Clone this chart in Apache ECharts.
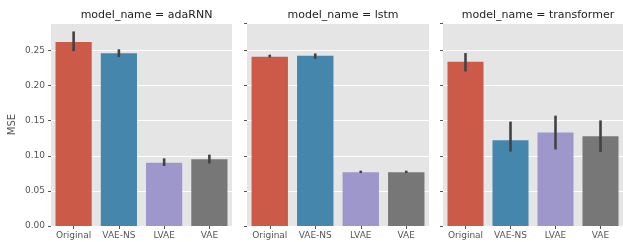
<!DOCTYPE html>
<html>
<head>
<meta charset="utf-8">
<script src="https://cdn.jsdelivr.net/npm/echarts@6/dist/echarts.min.js"></script>
<style>
  html, body { margin: 0; padding: 0; background: #fff; }
  #chart { width: 623px; height: 242px; }
</style>
</head>
<body>
<div id="chart"></div>
<script>
// Facet values
const models = ['adaRNN', 'lstm', 'transformer'];
const categories = ['Original', 'VAE-NS', 'LVAE', 'VAE'];
const yTicks = [0, 0.05, 0.1, 0.15, 0.2, 0.25];

const mseAdaRNN = [0.262, 0.246, 0.090, 0.095];
const lowAdaRNN = [0.249, 0.2405, 0.0855, 0.089];
const highAdaRNN = [0.277, 0.2515, 0.0963, 0.1016];

const mseLstm = [0.241, 0.2425, 0.0764, 0.0764];
const lowLstm = [0.240, 0.238, 0.0754, 0.0754];
const highLstm = [0.2439, 0.2457, 0.0788, 0.0788];

const mseTransformer = [0.234, 0.122, 0.133, 0.1276];
const lowTransformer = [0.220, 0.106, 0.109, 0.1053];
const highTransformer = [0.2462, 0.1486, 0.1571, 0.1504];

const mseAll = [mseAdaRNN, mseLstm, mseTransformer];
const lowAll = [lowAdaRNN, lowLstm, lowTransformer];
const highAll = [highAdaRNN, highLstm, highTransformer];

// seaborn-desaturated ggplot colours
const barColors = ['#CC5A49', '#4586AC', '#9E97CC', '#777777'];

const panels = [
  { left: 51, width: 181 },
  { left: 247, width: 182 },
  { left: 443, width: 180 }
];
const gridTop = 23;
const gridHeight = 203;
const font = 'DejaVu Sans';

const chart = echarts.init(document.getElementById('chart'));

const grids = panels.map(p => ({
  left: p.left, top: gridTop, width: p.width, height: gridHeight,
  show: true, backgroundColor: '#E5E5E5', borderWidth: 0
}));

const xAxes = panels.map((p, i) => ({
  type: 'category',
  gridIndex: i,
  data: categories,
  axisLine: { show: false },
  axisTick: { show: true, alignWithLabel: true, length: 3, lineStyle: { color: '#555' } },
  axisLabel: { interval: 0, fontSize: 9, color: '#555', margin: 5, fontFamily: font },
  splitLine: { show: false }
}));

const yAxes = panels.map((p, i) => ({
  type: 'value',
  gridIndex: i,
  min: 0,
  max: 0.289,
  interval: 0.05,
  axisLine: { show: false },
  axisTick: { show: true, length: 3, lineStyle: { color: '#555' } },
  axisLabel: {
    show: i === 0, fontSize: 9, color: '#555', margin: 6, fontFamily: font,
    showMaxLabel: false,
    formatter: v => yTicks.some(t => Math.abs(t - v) < 1e-9) ? v.toFixed(2) : ''
  },
  splitLine: { show: true, lineStyle: { color: '#fff', width: 1 } },
  name: i === 0 ? 'MSE' : '',
  nameLocation: 'middle',
  nameRotate: 90,
  nameGap: 34,
  nameTextStyle: { fontSize: 10, color: '#555', fontFamily: font }
}));

const titles = panels.map((p, i) => ({
  text: 'model_name = ' + models[i],
  left: p.left + p.width / 2,
  top: 5,
  textAlign: 'center',
  textStyle: { fontSize: 11, fontWeight: 'normal', color: '#222', fontFamily: font }
}));

const series = [];
panels.forEach((p, i) => {
  series.push({
    type: 'bar',
    xAxisIndex: i,
    yAxisIndex: i,
    barWidth: '80%',
    data: mseAll[i].map((v, k) => ({ value: v, itemStyle: { color: barColors[k] } })),
    silent: true
  });
  series.push({
    type: 'custom',
    xAxisIndex: i,
    yAxisIndex: i,
    z: 5,
    silent: true,
    data: categories.map((c, k) => [k, lowAll[i][k], highAll[i][k]]),
    encode: { x: 0, y: [1, 2] },
    renderItem: (params, api) => {
      const lo = api.coord([api.value(0), api.value(1)]);
      const hi = api.coord([api.value(0), api.value(2)]);
      return {
        type: 'line',
        shape: { x1: lo[0], y1: lo[1], x2: hi[0], y2: hi[1] },
        style: { stroke: '#424242', lineWidth: 2.6 }
      };
    }
  });
});

chart.setOption({
  animation: false,
  title: titles,
  grid: grids,
  xAxis: xAxes,
  yAxis: yAxes,
  series: series
});
</script>
</body>
</html>
